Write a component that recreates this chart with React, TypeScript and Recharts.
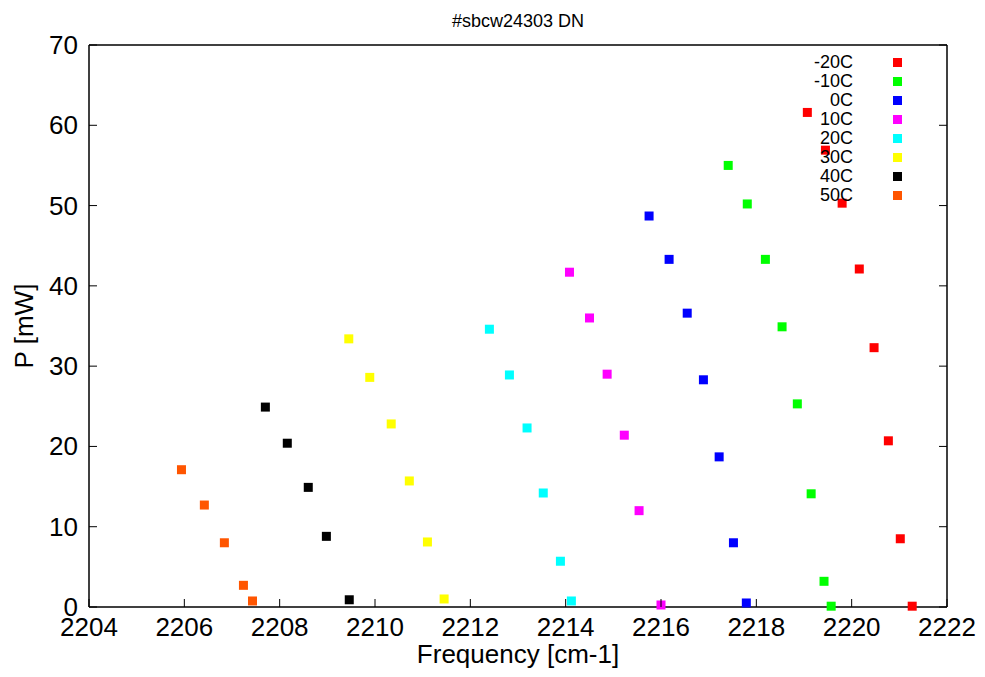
import React from 'react';
import { ScatterChart, Scatter, XAxis, YAxis, Legend } from 'recharts';

// measured peaks, one list per temperature
const seriesNames = ['-20C', '-10C', '0C', '10C', '20C', '30C', '40C', '50C'];
const seriesColors = ['#ff0000', '#00ff00', '#0000ff', '#ff00ff', '#00ffff', '#ffff00', '#000000', '#ff5500'];

const freqM20 = [2219.07, 2219.45, 2219.8, 2220.16, 2220.47, 2220.77, 2221.02, 2221.27];
const powM20 = [61.6, 56.9, 50.3, 42.1, 32.3, 20.7, 8.5, 0.1];
const freqM10 = [2217.41, 2217.81, 2218.19, 2218.54, 2218.86, 2219.15, 2219.42, 2219.57];
const powM10 = [55.0, 50.2, 43.3, 34.9, 25.3, 14.1, 3.2, 0.1];
const freq0 = [2215.75, 2216.17, 2216.55, 2216.89, 2217.22, 2217.52, 2217.79];
const pow0 = [48.7, 43.3, 36.6, 28.3, 18.7, 8.0, 0.5];
const freq10 = [2214.08, 2214.5, 2214.87, 2215.23, 2215.54, 2216.0];
const pow10 = [41.7, 36.0, 29.0, 21.4, 12.0, 0.25];
const freq20 = [2212.4, 2212.82, 2213.19, 2213.53, 2213.89, 2214.12];
const pow20 = [34.6, 28.9, 22.3, 14.2, 5.7, 0.75];
const freq30 = [2209.45, 2209.89, 2210.34, 2210.72, 2211.1, 2211.45];
const pow30 = [33.4, 28.6, 22.8, 15.7, 8.1, 1.0];
const freq40 = [2207.7, 2208.16, 2208.6, 2208.98, 2209.46];
const pow40 = [24.9, 20.4, 14.9, 8.8, 0.9];
const freq50 = [2205.94, 2206.42, 2206.84, 2207.24, 2207.43];
const pow50 = [17.1, 12.7, 8.0, 2.7, 0.75];

const xTicks = [2204, 2206, 2208, 2210, 2212, 2214, 2216, 2218, 2220, 2222];
const yTicks = [0, 10, 20, 30, 40, 50, 60, 70];

const freqs = [freqM20, freqM10, freq0, freq10, freq20, freq30, freq40, freq50];
const pows = [powM20, powM10, pow0, pow10, pow20, pow30, pow40, pow50];

const FONT = '"Liberation Sans", Arial, Helvetica, sans-serif';
const TICK_LEN = 8;

const Square = (props: any) => {
  const { cx, cy, fill } = props;
  if (cx == null || cy == null) return null;
  return <rect x={cx - 4.5} y={cy - 4.5} width={9} height={9} fill={fill} />;
};

const BottomTick = ({ x, y, payload }: any) => (
  <g>
    <line x1={x} x2={x} y1={y} y2={y - TICK_LEN} stroke="#000" strokeWidth={1} />
    <text x={x} y={y + 29} textAnchor="middle" fontSize={26} fill="#000" fontFamily={FONT}>
      {payload.value}
    </text>
  </g>
);

const TopTick = ({ x, y }: any) => (
  <line x1={x} x2={x} y1={y} y2={y + TICK_LEN} stroke="#000" strokeWidth={1} />
);

const LeftTick = ({ x, y, payload }: any) => (
  <g>
    <line x1={x} x2={x + TICK_LEN} y1={y} y2={y} stroke="#000" strokeWidth={1} />
    <text x={x - 11} y={y + 9} textAnchor="end" fontSize={26} fill="#000" fontFamily={FONT}>
      {payload.value}
    </text>
  </g>
);

const RightTick = ({ x, y }: any) => (
  <line x1={x} x2={x - TICK_LEN} y1={y} y2={y} stroke="#000" strokeWidth={1} />
);

// keep gnuplot's key order (the default legend sorts by name)
const KeyBox = () => (
  <div style={{ fontFamily: FONT, fontSize: 18, color: '#000' }}>
    {seriesNames.map((name, i) => (
      <div key={name} style={{ display: 'flex', alignItems: 'center', height: 19 }}>
        <span style={{ width: 63, textAlign: 'right', lineHeight: '19px' }}>{name}</span>
        <span style={{ width: 9, height: 9, marginLeft: 39.5, background: seriesColors[i] }} />
      </div>
    ))}
  </div>
);

export default function App() {
  return (
    <div style={{ position: 'absolute', left: 0, top: 0, width: 985, height: 677, background: '#fff', fontFamily: FONT }}>
      <ScatterChart width={985} height={677} margin={{ top: 44, right: 37, bottom: 0, left: 0 }}>
        <XAxis
          xAxisId="main"
          dataKey="x"
          type="number"
          domain={[2204, 2222]}
          ticks={xTicks}
          interval={0}
          height={70}
          tickSize={0}
          tickMargin={0}
          tickLine={false}
          tick={<BottomTick />}
          axisLine={{ stroke: '#000', strokeWidth: 1.5 }}
          label={{
            content: (p: any) => {
              const vb = p.viewBox;
              return (
                <text x={vb.x + vb.width / 2} y={vb.y + 56} textAnchor="middle" fontSize={26} fill="#000" fontFamily={FONT}>
                  Frequency [cm-1]
                </text>
              );
            },
          }}
        />
        <XAxis
          xAxisId="top"
          orientation="top"
          type="number"
          domain={[2204, 2222]}
          allowDataOverflow
          ticks={xTicks}
          interval={0}
          height={1}
          tickSize={0}
          tickMargin={0}
          tickLine={false}
          tick={<TopTick />}
          axisLine={{ stroke: '#000', strokeWidth: 1.5 }}
          label={{
            content: (p: any) => {
              const vb = p.viewBox;
              return (
                <text x={vb.x + vb.width / 2} y={vb.y - 17} textAnchor="middle" fontSize={18} fill="#000" fontFamily={FONT}>
                  #sbcw24303 DN
                </text>
              );
            },
          }}
        />
        <YAxis
          yAxisId="main"
          dataKey="y"
          type="number"
          domain={[0, 70]}
          ticks={yTicks}
          interval={0}
          width={89}
          tickSize={0}
          tickMargin={0}
          tickLine={false}
          tick={<LeftTick />}
          axisLine={{ stroke: '#000', strokeWidth: 1.5 }}
          label={{
            content: (p: any) => {
              const vb = p.viewBox;
              const cx = vb.x + 33;
              const cy = vb.y + vb.height / 2;
              return (
                <text x={cx} y={cy} transform={`rotate(-90 ${cx} ${cy})`} textAnchor="middle" fontSize={26} fill="#000" fontFamily={FONT}>
                  P [mW]
                </text>
              );
            },
          }}
        />
        <YAxis
          yAxisId="right"
          orientation="right"
          type="number"
          domain={[0, 70]}
          allowDataOverflow
          ticks={yTicks}
          interval={0}
          width={1}
          tickSize={0}
          tickMargin={0}
          tickLine={false}
          tick={<RightTick />}
          axisLine={{ stroke: '#000', strokeWidth: 1.5 }}
        />
        <Legend
          layout="vertical"
          align="center"
          verticalAlign="middle"
          content={<KeyBox />}
          wrapperStyle={{ position: 'absolute', top: 53, left: 790, width: 120, height: 'auto' }}
        />
        {seriesNames.map((name, i) => (
          <Scatter
            key={name}
            name={name}
            xAxisId="main"
            yAxisId="main"
            data={freqs[i].map((f, j) => ({ x: f, y: pows[i][j] }))}
            fill={seriesColors[i]}
            shape={<Square />}
            isAnimationActive={false}
          />
        ))}
      </ScatterChart>
    </div>
  );
}
